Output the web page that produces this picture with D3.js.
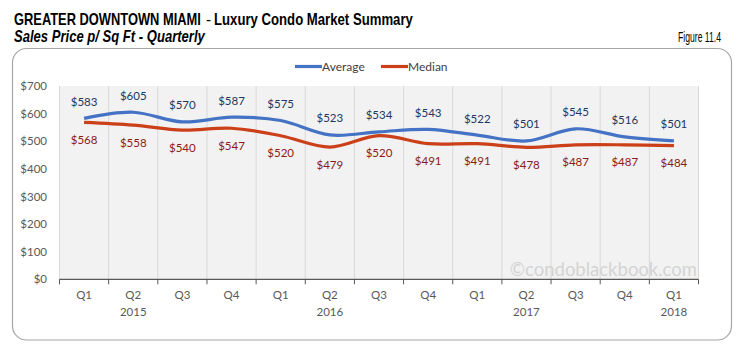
<!DOCTYPE html>
<html><head><meta charset="utf-8">
<script src="https://cdn.jsdelivr.net/npm/d3@7"></script>
<style>body{margin:0;background:#fff}svg{display:block}</style>
</head><body>
<svg id="c" width="747" height="352"></svg>
<script>
const quarters = ["Q1","Q2","Q3","Q4","Q1","Q2","Q3","Q4","Q1","Q2","Q3","Q4","Q1"];
const years = ["","2015","","","","2016","","","","2017","","","2018"];
const average = [583,605,570,587,575,523,534,543,522,501,545,516,501];
const median = [568,558,540,547,520,479,520,491,491,478,487,487,484];
const yTicks = [0,100,200,300,400,500,600,700];

const svg = d3.select("#c");
const lab = "Lato, 'Open Sans', sans-serif";
const narrow = "'Liberation Sans Narrow', 'Liberation Sans', Arial, sans-serif";

// condensed header text: measure then scale horizontally to the target width
function condensed(str, x0, y0, w, size, weight, style) {
  const g = svg.append("g");
  const tx = g.append("text").attr("x",0).attr("y",0).attr("font-family",narrow).attr("font-size",size)
    .attr("font-weight",weight).attr("font-style",style).attr("fill","#000").text(str);
  const nat = tx.node().getComputedTextLength();
  g.attr("transform",`translate(${x0},${y0}) scale(${w/nat},1)`);
}
condensed("GREATER DOWNTOWN MIAMI", 14, 25, 187, 16, "bold", "normal");
condensed("-", 206, 25, 5, 16, "normal", "normal");
condensed("Luxury Condo Market Summary", 214, 25, 199, 16, "bold", "normal");
condensed("Sales Price p/ Sq Ft - Quarterly", 14, 42, 191, 16, "bold", "italic");
condensed("Figure 11.4", 678, 42, 43, 15.5, "normal", "normal");

// border
svg.append("rect").attr("x",12.5).attr("y",48.5).attr("width",719).attr("height",291.5).attr("rx",14)
  .attr("fill","#fff").attr("stroke","#A6A6A6").attr("stroke-width",1.2);

const idx = d3.range(quarters.length);
const x = d3.scaleBand().domain(idx).range([59.5,698.5]).paddingInner(0).paddingOuter(0);
const y = d3.scaleLinear().domain([0,700]).range([279.3,86]);
const bw = x.bandwidth();
const bounds = d3.range(quarters.length+1).map(i => i < quarters.length ? x(i) : x(quarters.length-1)+bw);

// plot bg
svg.append("rect").attr("x",x.range()[0]).attr("y",y(700)).attr("width",x.range()[1]-x.range()[0]).attr("height",y(0)-y(700)).attr("fill","#F2F2F2");
svg.append("g").selectAll("line").data(bounds).join("line")
  .attr("x1",d=>d).attr("x2",d=>d).attr("y1",y(700)).attr("y2",y(0)).attr("stroke","#D9D9D9").attr("stroke-width",1);

// watermark
svg.append("text").attr("x",697).attr("y",276).attr("text-anchor","end").attr("font-family",lab).attr("font-size",18.5)
  .attr("fill","#D4D4D4").text("©condoblackbook.com");

// y axis
const ya = svg.append("g").attr("transform","translate(51,0)")
  .call(d3.axisLeft(y).tickValues(yTicks).tickSize(0).tickPadding(4).tickFormat(d=>"$"+d));
ya.select(".domain").remove();
ya.selectAll("text").attr("font-family",lab).attr("font-size",11.5).attr("fill","#595959");

// x axis
svg.append("line").attr("x1",x.range()[0]).attr("x2",x.range()[1]).attr("y1",y(0)).attr("y2",y(0)).attr("stroke","#595959").attr("stroke-width",1.2);
svg.append("g").selectAll("line").data(bounds).join("line")
  .attr("x1",d=>d).attr("x2",d=>d).attr("y1",y(0)).attr("y2",y(0)+5).attr("stroke","#595959");
const xa = svg.append("g").attr("transform",`translate(0,${y(0)})`)
  .call(d3.axisBottom(x).tickSize(0).tickPadding(12).tickFormat(i=>quarters[i]));
xa.select(".domain").remove();
xa.selectAll("text").attr("font-family",lab).attr("font-size",11.5).attr("fill","#595959");
svg.append("g").selectAll("text").data(idx.filter(i=>years[i])).join("text")
  .attr("x",i=>x(i)+bw/2).attr("y",y(0)+37).attr("text-anchor","middle")
  .attr("font-family",lab).attr("font-size",11.5).attr("fill","#595959").text(i=>years[i]);

// lines
const line = d3.line().x((d,i)=>x(i)+bw/2).y(d=>y(d)).curve(d3.curveCardinal.tension(0));
svg.append("path").datum(median).attr("d",line).attr("fill","none").attr("stroke","#CC4019").attr("stroke-width",3.2);
svg.append("path").datum(average).attr("d",line).attr("fill","none").attr("stroke","#4472C4").attr("stroke-width",3.2);

// labels
svg.append("g").selectAll("text").data(average).join("text")
  .attr("x",(d,i)=>x(i)+bw/2).attr("y",d=>y(d)-16.5).attr("dy","0.35em").attr("text-anchor","middle")
  .attr("font-family",lab).attr("font-size",11.5).attr("fill","#203864").text(d=>"$"+d);
svg.append("g").selectAll("text").data(median).join("text")
  .attr("x",(d,i)=>x(i)+bw/2).attr("y",d=>y(d)+17.5).attr("dy","0.35em").attr("text-anchor","middle")
  .attr("font-family",lab).attr("font-size",11.5).attr("fill","#8B1A14").text(d=>"$"+d);

// legend
const leg = [{n:"Average",c:"#4472C4",x:295},{n:"Median",c:"#CC4019",x:381}];
const lg = svg.append("g").selectAll("g").data(leg).join("g").attr("transform",d=>`translate(${d.x},66.5)`);
lg.append("line").attr("x1",0).attr("x2",27).attr("stroke",d=>d.c).attr("stroke-width",3.2);
lg.append("text").attr("x",27).attr("dy","0.35em").attr("font-family",lab).attr("font-size",12).attr("fill","#404040").text(d=>d.n);
</script>
</body></html>
